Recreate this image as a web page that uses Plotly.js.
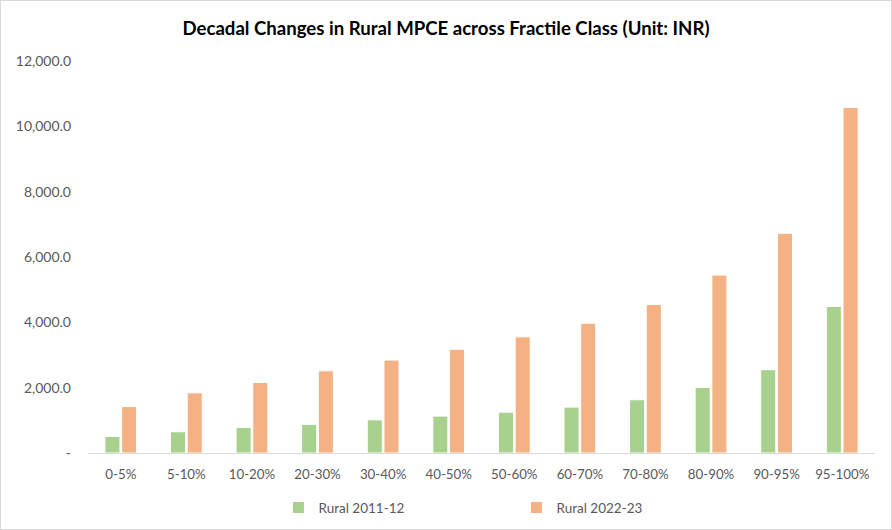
<!DOCTYPE html>
<html>
<head>
<meta charset="utf-8">
<script src="https://cdn.plot.ly/plotly-3.0.1.min.js"></script>
<style>
html,body{margin:0;padding:0;background:#fff;}
#chart{position:absolute;left:0;top:0;width:890px;height:528px;border:1px solid #d9d9d9;}
</style>
</head>
<body>
<div id="chart"></div>
<script>
const categories = ["0-5%","5-10%","10-20%","20-30%","30-40%","40-50%","50-60%","60-70%","70-80%","80-90%","90-95%","95-100%"];
const rural2011 = [505, 650, 780, 875, 1015, 1130, 1250, 1405, 1630, 2005, 2550, 4485];
const rural2022 = [1420, 1840, 2160, 2515, 2845, 3175, 3555, 3975, 4545, 5450, 6725, 10575];
const seriesNames = ["Rural 2011-12", "Rural 2022-23"];
const tickValues = [0, 2000, 4000, 6000, 8000, 10000, 12000];
const tickLabels = ["-", "2,000.0", "4,000.0", "6,000.0", "8,000.0", "10,000.0", "12,000.0"];
const titleText = "Decadal Changes in Rural MPCE across Fractile Class (Unit: INR)";

const FONT = "Lato, 'Open Sans', sans-serif";
const traces = [
  {type:"bar", name:seriesNames[0], x:categories, y:rural2011,
   marker:{color:"#A9D18E", line:{color:"#ffffff", width:1}}, hoverinfo:"x+y"},
  {type:"bar", name:seriesNames[1], x:categories, y:rural2022,
   marker:{color:"#F4B183", line:{color:"#ffffff", width:1}}, hoverinfo:"x+y"}
];
const layout = {
  width:890, height:528,
  margin:{l:87, r:16, t:60, b:76, autoexpand:false},
  paper_bgcolor:"#ffffff", plot_bgcolor:"#ffffff",
  font:{family:FONT, size:13, color:"#595959"},
  title:{text:"<b>"+titleText+"</b>", x:0.5, xanchor:"center", xref:"container", y:0.947, yanchor:"middle",
         font:{family:FONT, size:18.6, color:"#000000"}},
  barmode:"group", bargap:0.49, bargroupgap:0.1,
  xaxis:{type:"category", showline:true, linecolor:"#d9d9d9", linewidth:1, automargin:false,
         ticks:"", showgrid:false, zeroline:false, ticklabelstandoff:9,
         tickfont:{size:13.3, color:"#595959"}},
  yaxis:{range:[0,12000], tickvals:tickValues, ticktext:tickLabels, showgrid:false, automargin:false,
         zeroline:false, showline:false, ticks:"", ticklabelstandoff:16,
         tickfont:{size:14, color:"#595959"}},
  legend:{orientation:"h", x:0.242, xanchor:"left", y:-0.1, yanchor:"top",
          entrywidth:193, font:{size:13.5, color:"#595959"}, itemwidth:30},
  showlegend:true
};
Plotly.newPlot("chart", traces, layout, {displayModeBar:false, staticPlot:true});
</script>
</body>
</html>
